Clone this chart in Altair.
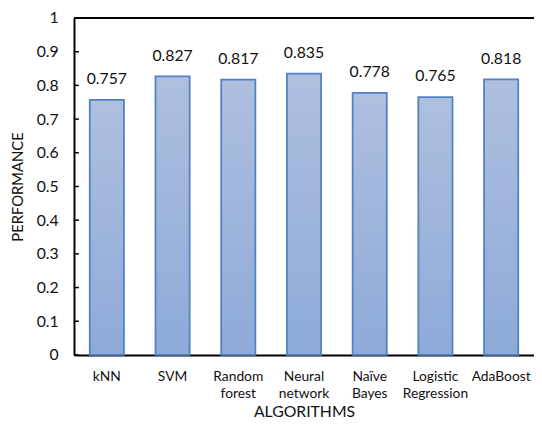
import altair as alt
import pandas as pd

algorithms = ["kNN", "SVM", "Random forest", "Neural network", "Naïve Bayes", "Logistic Regression", "AdaBoost"]
performance = [0.757, 0.827, 0.817, 0.835, 0.778, 0.765, 0.818]
y_ticks = [0, 0.1, 0.2, 0.3, 0.4, 0.5, 0.6, 0.7, 0.8, 0.9]

df = pd.DataFrame({"alg": algorithms, "perf": performance})
ticks_df = pd.DataFrame({"t": y_ticks})

W, H = 467, 342
FONT = "Lato"

xscale = alt.Scale(paddingInner=0.48, paddingOuter=0.24)
yscale = alt.Scale(domain=[0, 1])

x_axis = alt.Axis(labelAngle=0, labelExpr="split(datum.label, ' ')",
                  labelFontSize=14, labelLineHeight=17, labelPadding=15,
                  labelColor="#111", labelFont=FONT, labelOverlap=False,
                  ticks=False, domainColor="#000", domainWidth=2,
                  titleFont=FONT, titleFontSize=16, titleFontWeight="normal",
                  titleColor="#111", titlePadding=4)
y_axis = alt.Axis(values=y_ticks + [1], format="~g", grid=False, ticks=False,
                  labelOverlap=False, labelFlush=False,
                  labelFontSize=16, labelPadding=16, labelColor="#111",
                  labelFont=FONT, domainColor="#000", domainWidth=2,
                  titleFont=FONT, titleFontSize=15, titleFontWeight="normal",
                  titleColor="#111", titlePadding=11)

grad = alt.LinearGradient(
    gradient="linear", x1=0, y1=0, x2=0, y2=1,
    stops=[alt.GradientStop(color="#aebfdf", offset=0),
           alt.GradientStop(color="#8eaad8", offset=1)],
)

bars = alt.Chart(df).mark_bar(color=grad, stroke="#5282c2", strokeWidth=1.8).encode(
    x=alt.X("alg:N", sort=algorithms, scale=xscale, title="ALGORITHMS", axis=x_axis),
    y=alt.Y("perf:Q", scale=yscale, title="PERFORMANCE", axis=y_axis),
)

labels = alt.Chart(df).mark_text(baseline="bottom", dy=-13, fontSize=16, font=FONT, color="#111").encode(
    x=alt.X("alg:N", sort=algorithms, scale=xscale, title="ALGORITHMS", axis=x_axis),
    y=alt.Y("perf:Q", scale=yscale, title="PERFORMANCE", axis=y_axis),
    text=alt.Text("perf:Q", format=".3f"),
)

tick_marks = alt.Chart(ticks_df).mark_rule(color="#000", strokeWidth=1.5).encode(
    y=alt.Y("t:Q", scale=yscale, title="PERFORMANCE", axis=y_axis),
    x=alt.value(0),
    x2=alt.value(5),
)

top_line = alt.Chart(pd.DataFrame({"t": [1]})).mark_rule(color="#000", strokeWidth=2).encode(
    y=alt.Y("t:Q", scale=yscale, title="PERFORMANCE", axis=y_axis),
    x=alt.value(0),
    x2=alt.value(W + 5),
)

chart = alt.layer(bars, labels, tick_marks, top_line).properties(
    width=W, height=H,
    autosize=alt.AutoSizeParams(type="none"),
    padding={"left": 67, "top": 7, "right": 0, "bottom": 70},
).configure_view(stroke=None).configure(background="white")

chart.save("out.html", embed_options={"renderer": "svg", "actions": False})
